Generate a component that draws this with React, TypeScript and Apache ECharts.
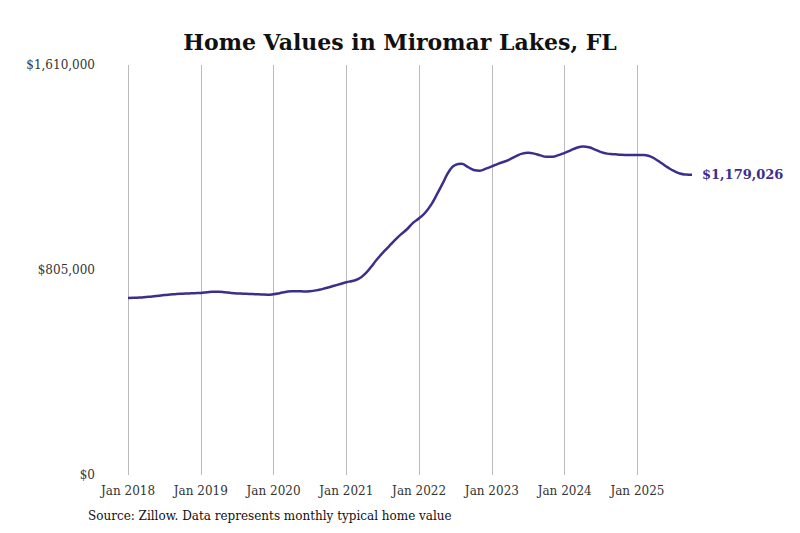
import { useEffect, useRef } from "react";
import * as echarts from "echarts";

const startYear = 2018;
// monthly typical home value, Jan 2018 - Oct 2025 (thousands)
const values2018 = [695, 696, 697, 699, 701, 704, 707, 709, 711, 712, 713, 714];
const values2019 = [715, 718, 720, 720, 718, 715, 713, 712, 711, 710, 709, 708];
const values2020 = [710, 714, 719, 722, 722, 721, 722, 725, 730, 736, 743, 750];
const values2021 = [757, 762, 770, 788, 815, 845, 872, 897, 922, 945, 965, 990];
const values2022 = [1008, 1030, 1062, 1105, 1150, 1195, 1218, 1222, 1210, 1198, 1195, 1203];
const values2023 = [1212, 1222, 1230, 1240, 1252, 1262, 1265, 1262, 1255, 1250, 1250, 1256];
const values2024 = [1265, 1275, 1285, 1290, 1287, 1278, 1268, 1262, 1260, 1258, 1257, 1257];
const values2025 = [1257, 1257, 1252, 1240, 1224, 1208, 1194, 1184, 1180, 1179.026];

const allValues = [
  ...values2018, ...values2019, ...values2020, ...values2021,
  ...values2022, ...values2023, ...values2024, ...values2025,
].map((v) => Math.round(v * 1000));

const months = allValues.map((_, i) => {
  const y = startYear + Math.floor(i / 12);
  const m = i % 12;
  return m === 0 ? `Jan ${y}` : `${y}-${m + 1}`;
});

const serif = '"DejaVu Serif", "Liberation Serif", serif';
const lineColor = "#3b2f8c";
const fmt = (v: number) => "$" + v.toLocaleString("en-US");

export default function App() {
  const ref = useRef<HTMLDivElement>(null);

  useEffect(() => {
    if (!ref.current) return;
    const chart = echarts.init(ref.current, null, { renderer: "svg" });
    chart.setOption({
      animation: false,
      backgroundColor: "#fff",
      textStyle: { fontFamily: serif },
      title: {
        text: "Home Values in Miromar Lakes, FL",
        left: "center",
        top: 26,
        textStyle: { fontFamily: serif, fontSize: 22, fontWeight: "bold", color: "#111" },
      },
      graphic: [
        {
          type: "text",
          left: 88,
          top: 510,
          style: {
            text: "Source: Zillow. Data represents monthly typical home value",
            font: `12px ${serif}`,
            fill: "#111",
          },
        },
      ],
      grid: { left: 128, right: 108, top: 65, bottom: 58 },
      xAxis: {
        type: "category",
        data: months,
        boundaryGap: false,
        axisLine: { show: false },
        axisTick: { show: false },
        axisLabel: {
          interval: (i: number) => i % 12 === 0,
          color: "#333",
          fontFamily: serif,
          fontSize: 12,
          margin: 10,
        },
        splitLine: {
          show: true,
          interval: (i: number) => i % 12 === 0,
          lineStyle: { color: "#bbb", width: 1 },
        },
      },
      yAxis: {
        type: "value",
        min: 0,
        max: 1610000,
        interval: 805000,
        axisLine: { show: false },
        axisTick: { show: false },
        splitLine: { show: false },
        axisLabel: {
          formatter: fmt,
          color: "#333",
          fontFamily: serif,
          fontSize: 12,
          margin: 33,
        },
      },
      series: [
        {
          type: "line",
          data: allValues,
          smooth: true,
          showSymbol: false,
          lineStyle: { color: lineColor, width: 2.5 },
          itemStyle: { color: lineColor },
          endLabel: {
            show: true,
            formatter: (p: any) => fmt(p.value),
            color: lineColor,
            fontFamily: serif,
            fontWeight: "bold",
            fontSize: 13,
            distance: 10,
          },
        },
      ],
    });
    return () => chart.dispose();
  }, []);

  return (
    <div
      ref={ref}
      style={{ position: "absolute", left: 0, top: 0, width: 800, height: 533 }}
    />
  );
}
